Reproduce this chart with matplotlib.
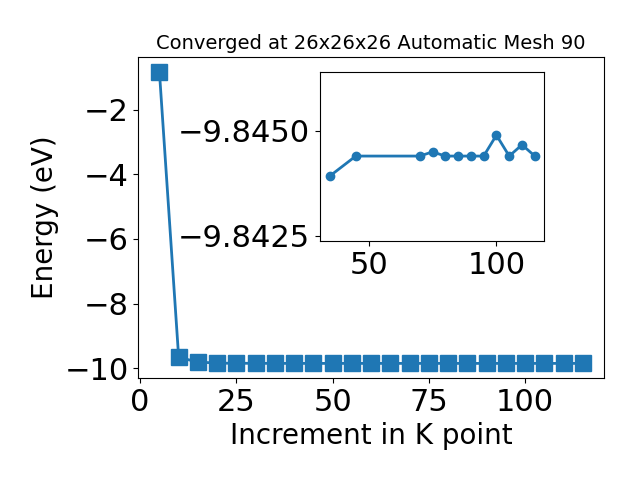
import matplotlib
matplotlib.use('Agg')
import matplotlib.pyplot as plt

# k-point increments and total energies
kpoints = [5, 10, 15, 20, 25, 30, 35, 40, 45, 50, 55, 60, 65, 70, 75, 80, 85, 90, 95, 100, 105, 110, 115]
energy = [-0.83, -9.66, -9.80, -9.838, -9.840, -9.842, -9.8439, -9.8442, -9.8444, -9.8444, -9.8444, -9.8444,
          -9.8444, -9.8444, -9.8445, -9.8444, -9.8444, -9.8444, -9.8444, -9.8449, -9.8444, -9.84467, -9.8444]

# zoomed region
k_zoom = [35, 45, 70, 75, 80, 85, 90, 95, 100, 105, 110, 115]
e_zoom = [-9.84393, -9.84440, -9.84440, -9.84450, -9.84440, -9.84440, -9.84440, -9.84440,
          -9.84490, -9.84440, -9.84467, -9.84440]

fig, ax = plt.subplots(figsize=(6.4, 4.8), dpi=100)
fig.subplots_adjust(left=0.216, right=0.944, top=0.881, bottom=0.2125)
ax.plot(kpoints, energy, marker='s', markersize=11, linewidth=2)
ax.set_xlabel("Increment in K point", fontsize=20)
ax.set_ylabel("Energy (eV)", fontsize=20)
ax.set_title("Converged at 26x26x26 Automatic Mesh 90", fontsize=14)
ax.tick_params(labelsize=22)

ins = fig.add_axes([0.5, 0.498, 0.35, 0.352])
ins.plot(k_zoom, e_zoom, marker='o', markersize=6, linewidth=2)
ins.set_ylim(-9.84237, -9.84641)
ins.set_xlim(31, 118.6)
ins.set_yticks([-9.8450, -9.8425])
ins.set_xticks([50, 100])
ins.tick_params(labelsize=22)

plt.savefig('out.png')
